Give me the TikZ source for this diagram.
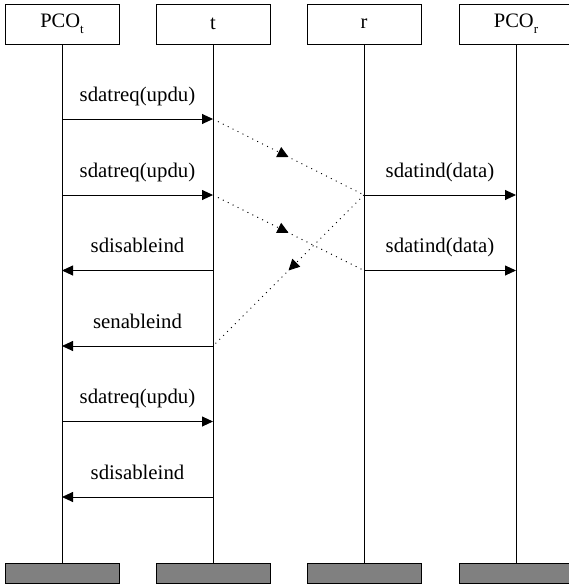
\documentclass[tikz,border=0pt]{standalone}
\usepackage{fontspec}
\setmainfont{Liberation Serif}
\usetikzlibrary{arrows.meta,decorations.markings}
\definecolor{footgray}{HTML}{808080}
\newcommand{\lowsub}[1]{\raisebox{-0.3em}{\fontsize{13}{13}\selectfont #1}}
\begin{document}
\begin{tikzpicture}[x=1pt,y=-1pt,line width=0.9pt,
  head/.style={draw,minimum width=114pt,minimum height=40pt,inner sep=0pt,font=\fontsize{20.5}{24}\selectfont},
  foot/.style={draw,fill=footgray,minimum width=114pt,minimum height=20pt,inner sep=0pt},
  msg/.style={-{Triangle[length=11pt,width=10pt]}},
  lbl/.style={midway,anchor=base,yshift=18pt,inner sep=0pt,font=\fontsize{20.8}{24}\selectfont},
  async/.style={dash pattern=on 1pt off 4.5pt,
    decoration={markings,mark=at position 0.5 with {\arrow{Triangle[length=11pt,width=11pt]}}},
    postaction={decorate}}
]
\useasboundingbox (0,0) rectangle (568,584);
% instances
\node[head] (hA) at (62,24) {PCO\lowsub{t}};
\node[head] (hB) at (213,24) {t};
\node[head] (hC) at (364,24) {r};
\node[head] (hD) at (516,24) {PCO\lowsub{r}};
\node[foot] (fA) at (62,573) {};
\node[foot] (fB) at (213,573) {};
\node[foot] (fC) at (364,573) {};
\node[foot] (fD) at (516,573) {};
\draw (hA) -- (fA);
\draw (hB) -- (fB);
\draw (hC) -- (fC);
\draw (hD) -- (fD);
% points on lifelines
\foreach \n/\y in {1/119,2/195,3/270.5,4/346,5/421.5,6/497}{
  \coordinate (A\n) at (62,\y);
  \coordinate (B\n) at (213,\y);
  \coordinate (C\n) at (364,\y);
  \coordinate (D\n) at (516,\y);
}
% messages
\draw[msg] (A1) -- (B1) node[lbl] {sdatreq(updu)};
\draw[msg] (A2) -- (B2) node[lbl] {sdatreq(updu)};
\draw[msg] (B3) -- (A3) node[lbl] {sdisableind};
\draw[msg] (B4) -- (A4) node[lbl] {senableind};
\draw[msg] (A5) -- (B5) node[lbl] {sdatreq(updu)};
\draw[msg] (B6) -- (A6) node[lbl] {sdisableind};
\draw[msg] (C2) -- (D2) node[lbl] {sdatind(data)};
\draw[msg] (C3) -- (D3) node[lbl] {sdatind(data)};
% asynchronous transfers
\draw[async] (B1) -- (C2);
\draw[async] (B2) -- (C3);
\draw[async] (C2) -- (B4);
\end{tikzpicture}
\end{document}
